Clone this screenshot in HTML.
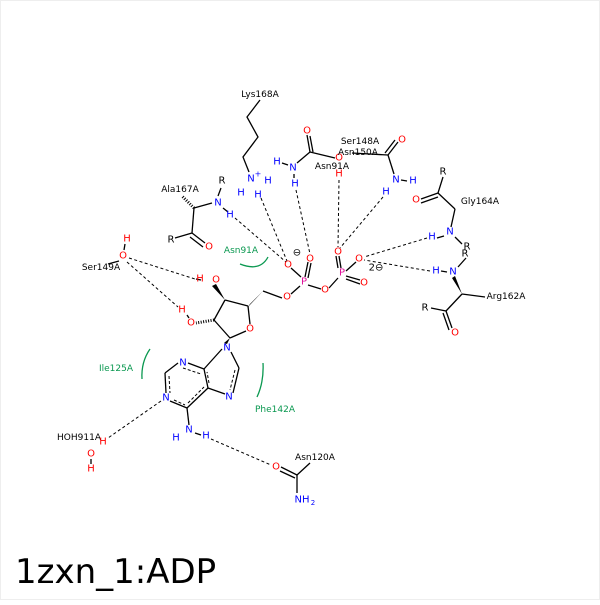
<!DOCTYPE html>
<html><head><style>
body{margin:0;background:#fff}
svg text{font-family:"DejaVu Sans","Liberation Sans",sans-serif;text-anchor:middle;dominant-baseline:central}
.r{fill:#f00}.b{fill:#00f}.m{fill:#e0109a}.g{fill:#0a9850}.k{fill:#000}
</style></head><body>
<svg width="600" height="600" viewBox="0 0 600 600" xmlns="http://www.w3.org/2000/svg" font-size="10">
<rect x="0.5" y="0.5" width="599" height="599" fill="#fff" stroke="#eee"/>
<g stroke="#000" stroke-width="1.3" fill="none">
<polyline points="260,100 247,117 258,137 243,157 249,172"/>
<line x1="194" y1="208" x2="212" y2="203"/><line x1="218" y1="196" x2="221" y2="188"/>
<line x1="223" y1="208" x2="228" y2="212"/>
<line x1="194" y1="208" x2="192" y2="233"/><line x1="192" y1="233" x2="175" y2="238"/>
<line x1="192" y1="233" x2="205" y2="243"/><line x1="190" y1="237" x2="203" y2="247"/>
<line x1="282" y1="163" x2="288" y2="165"/><line x1="297" y1="163" x2="310" y2="152"/>
<line x1="310" y1="152" x2="307" y2="135"/><line x1="313" y1="152" x2="310" y2="136" />
<line x1="310" y1="152" x2="335" y2="158"/><line x1="294" y1="174" x2="294" y2="178"/>
<line x1="352" y1="153" x2="388" y2="155"/><line x1="388" y1="155" x2="398" y2="142"/><line x1="385" y1="153" x2="395" y2="140"/>
<line x1="388" y1="155" x2="394" y2="174"/><line x1="401" y1="180" x2="407" y2="181"/>
<line x1="443" y1="177" x2="438" y2="193"/><line x1="438" y1="193" x2="421" y2="199"/><line x1="438" y1="197" x2="421" y2="203"/>
<line x1="438" y1="193" x2="455" y2="209"/><line x1="455" y1="209" x2="451" y2="227"/>
<line x1="455" y1="237" x2="462" y2="244"/><line x1="437" y1="238" x2="444" y2="236"/>
<line x1="466" y1="258" x2="458" y2="267"/><line x1="441" y1="271" x2="447" y2="272"/>
<line x1="462" y1="294" x2="485" y2="297"/><line x1="462" y1="294" x2="446" y2="311"/>
<line x1="446" y1="311" x2="431" y2="308"/><line x1="446" y1="311" x2="452" y2="328"/><line x1="443" y1="313" x2="449" y2="330"/>
<line x1="291" y1="268" x2="301" y2="277"/><line x1="308" y1="262" x2="305" y2="277"/><line x1="311" y1="263" x2="308" y2="278"/>
<line x1="308" y1="285" x2="321" y2="289"/><line x1="300" y1="286" x2="291" y2="294"/>
<line x1="329" y1="288" x2="338" y2="278"/>
<line x1="339" y1="256" x2="341" y2="268"/><line x1="336" y1="256" x2="338" y2="268"/>
<line x1="346" y1="271" x2="356" y2="262"/><line x1="346" y1="276" x2="360" y2="280"/><line x1="346" y1="279" x2="360" y2="284"/>
<line x1="282" y1="298" x2="263" y2="291"/>
<line x1="248" y1="306" x2="225" y2="300"/><line x1="225" y1="300" x2="214" y2="320"/>
<line x1="214" y1="320" x2="230" y2="338"/><line x1="230" y1="338" x2="246" y2="331"/><line x1="250" y1="324" x2="248" y2="306"/>
<line x1="196" y1="279" x2="201" y2="280"/><line x1="187" y1="315" x2="189" y2="318"/>
<line x1="119" y1="261" x2="108" y2="264"/><line x1="124" y1="250" x2="125" y2="244"/>
<line x1="231" y1="352" x2="239" y2="368"/><line x1="239" y1="368" x2="233" y2="393"/>
<line x1="225" y1="394" x2="208" y2="388"/><line x1="208" y1="388" x2="204" y2="369"/>
<line x1="204" y1="369" x2="222" y2="349"/><line x1="204" y1="369" x2="188" y2="363"/>
<line x1="178" y1="363" x2="165" y2="373"/><line x1="165" y1="373" x2="166" y2="393"/>
<line x1="170" y1="401" x2="187" y2="408"/><line x1="187" y1="408" x2="208" y2="388"/>
<line x1="187" y1="408" x2="189" y2="425"/><line x1="195" y1="433" x2="201" y2="435"/>
<line x1="91" y1="459" x2="91" y2="464"/>
<line x1="281" y1="467" x2="297" y2="475"/><line x1="280" y1="471" x2="295" y2="478"/>
<line x1="297" y1="475" x2="310" y2="463"/><line x1="297" y1="475" x2="297" y2="493"/>
</g>
<g stroke="#000" stroke-width="1" stroke-dasharray="3,2" fill="none">
<line x1="235" y1="370" x2="230" y2="390"/><line x1="209" y1="383" x2="207" y2="372"/>
<line x1="169" y1="376" x2="170" y2="393"/><line x1="183" y1="368" x2="201" y2="374"/>
<line x1="188" y1="403" x2="204" y2="387"/><line x1="174" y1="400" x2="185" y2="405"/>
</g>
<g fill="#000">
<polygon points="263,291 250,304 247,308"/>
<polygon points="225,300 216,284 212,286"/>
<polygon points="230,338 224,343 227,344"/>
<polygon points="462,294 455,276 452,278"/>
</g>
<g stroke="#000" stroke-width="1">
<line x1="194" y1="208" x2="182" y2="196" stroke-dasharray="1,1.5" stroke-width="3"/>
<line x1="214" y1="320" x2="196" y2="323" stroke-dasharray="1,1.5" stroke-width="3"/>
</g>
<g stroke="#000" stroke-width="1" stroke-dasharray="3,2.5" fill="none">
<line x1="235" y1="218" x2="286" y2="262"/>
<line x1="261" y1="198" x2="287" y2="261"/>
<line x1="296" y1="190" x2="310" y2="254"/>
<line x1="339" y1="180" x2="338" y2="247"/>
<line x1="383" y1="197" x2="340" y2="248"/>
<line x1="427" y1="238" x2="364" y2="257"/>
<line x1="430" y1="271" x2="364" y2="260"/>
<line x1="129" y1="258" x2="195" y2="279"/>
<line x1="127" y1="262" x2="178" y2="307"/>
<line x1="161" y1="401" x2="108" y2="438"/>
<line x1="211" y1="439" x2="271" y2="465"/>
</g>
<g stroke="#0a9850" stroke-width="1.3" fill="none">
<path d="M240,264 Q260,272 268,257"/>
<path d="M150,349 Q141,362 142,379"/>
<path d="M263,363 Q264,382 257,397"/>
</g>
<g>
<text x="260" y="95" class="k" font-size="9">Lys168A</text>
<text x="180" y="190" class="k" font-size="9">Ala167A</text>
<text x="222" y="181" class="k">R</text>
<text x="218" y="203" class="b">N</text>
<text x="230" y="215" class="b">H</text>
<text x="171" y="240" class="k">R</text>
<text x="209" y="247" class="r">O</text>
<text x="251" y="179" class="b">N</text><text x="258" y="174" class="b" font-size="8">+</text>
<text x="268" y="181" class="b">H</text><text x="241" y="193" class="b">H</text><text x="258" y="195" class="b">H</text>
<text x="277" y="162" class="b">H</text><text x="293" y="168" class="b">N</text><text x="295" y="184" class="b">H</text>
<text x="307" y="131" class="r">O</text>
<text x="339" y="158" class="r">O</text><text x="339" y="174" class="r">H</text>
<text x="360" y="142" class="k" font-size="9">Ser148A</text>
<text x="358" y="153" class="k" font-size="9">Asn150A</text>
<text x="332" y="167" class="k" font-size="9">Asn91A</text>
<text x="402" y="140" class="r">O</text>
<text x="396" y="180" class="b">N</text><text x="413" y="181" class="b">H</text><text x="386" y="192" class="b">H</text>
<text x="443" y="172" class="k">R</text>
<text x="416" y="200" class="r">O</text>
<text x="480" y="202" class="k" font-size="9">Gly164A</text>
<text x="450" y="232" class="b">N</text><text x="432" y="237" class="b">H</text>
<text x="467" y="247" class="k">R</text><text x="465" y="254" class="k">R</text>
<text x="453" y="272" class="b">N</text><text x="436" y="271" class="b">H</text>
<text x="506" y="297" class="k" font-size="9">Arg162A</text>
<text x="425" y="308" class="k">R</text>
<text x="455" y="333" class="r">O</text>
<text x="297" y="253" class="k">⊖</text>
<text x="288" y="265" class="r">O</text><text x="310" y="259" class="r">O</text>
<text x="304" y="282" class="m">P</text>
<text x="325" y="290" class="r">O</text><text x="287" y="297" class="r">O</text>
<text x="342" y="273" class="m">P</text>
<text x="338" y="252" class="r">O</text><text x="359" y="259" class="r">O</text><text x="364" y="283" class="r">O</text>
<text x="376" y="268" class="k">2⊖</text>
<text x="241" y="251" class="g" font-size="9">Asn91A</text>
<text x="127" y="239" class="r">H</text><text x="123" y="256" class="r">O</text>
<text x="101" y="268" class="k" font-size="9">Ser149A</text>
<text x="200" y="279" class="r">H</text><text x="216" y="280" class="r">O</text>
<text x="182" y="310" class="r">H</text><text x="191" y="323" class="r">O</text>
<text x="250" y="329" class="r">O</text>
<text x="227" y="348" class="b">N</text>
<text x="229" y="397" class="b">N</text>
<text x="183" y="363" class="b">N</text>
<text x="166" y="398" class="b">N</text>
<text x="189" y="430" class="b">N</text><text x="176" y="438" class="b">H</text><text x="206" y="436" class="b">H</text>
<text x="116" y="369" class="g" font-size="9">Ile125A</text>
<text x="275" y="410" class="g" font-size="9">Phe142A</text>
<text x="79" y="438" class="k" font-size="9">HOH911A</text>
<text x="103" y="442" class="r">H</text><text x="91" y="454" class="r">O</text><text x="91" y="469" class="r">H</text>
<text x="276" y="467" class="r">O</text>
<text x="315" y="458" class="k" font-size="9">Asn120A</text>
<text x="302" y="500" class="b">NH</text><text x="313" y="503" class="b" font-size="7">2</text>
<text x="15" y="572" class="k" font-size="34" style="text-anchor:start">1zxn_1:ADP</text>
</g>
</svg>
</body></html>
